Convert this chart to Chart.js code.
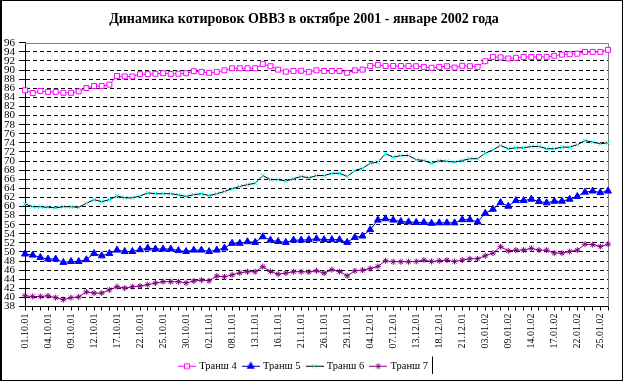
<!DOCTYPE html>
<html>
<head>
<meta charset="utf-8">
<script src="https://cdn.jsdelivr.net/npm/chart.js@4/dist/chart.umd.min.js"></script>
<style>
  html, body { margin: 0; padding: 0; background: #fff; }
  canvas { display: block; }
</style>
</head>
<body>
<canvas id="chart" width="623" height="381"></canvas>
<script>
const dates = [
  '01.10.01', '02.10.01', '03.10.01', '04.10.01', '05.10.01', '08.10.01', '09.10.01', '10.10.01',
  '11.10.01', '12.10.01', '15.10.01', '16.10.01', '17.10.01', '18.10.01', '19.10.01', '22.10.01',
  '23.10.01', '24.10.01', '25.10.01', '26.10.01', '29.10.01', '30.10.01', '31.10.01', '01.11.01',
  '02.11.01', '05.11.01', '06.11.01', '08.11.01', '09.11.01', '12.11.01', '13.11.01', '14.11.01',
  '15.11.01', '16.11.01', '19.11.01', '20.11.01', '21.11.01', '22.11.01', '23.11.01', '26.11.01',
  '27.11.01', '28.11.01', '29.11.01', '30.11.01', '03.12.01', '04.12.01', '05.12.01', '06.12.01',
  '07.12.01', '10.12.01', '11.12.01', '13.12.01', '14.12.01', '17.12.01', '18.12.01', '19.12.01',
  '20.12.01', '21.12.01', '25.12.01', '28.12.01', '03.01.02', '04.01.02', '08.01.02', '09.01.02',
  '10.01.02', '11.01.02', '14.01.02', '15.01.02', '16.01.02', '17.01.02', '18.01.02', '21.01.02',
  '22.01.02', '23.01.02', '24.01.02', '25.01.02', '28.01.02'
];

const tranche4 = [
  85.55, 84.95, 85.4, 85.2, 85.2, 85.0, 85.0, 85.3, 86.05, 86.5, 86.5, 86.8, 88.7, 88.6, 88.6, 89.1,
  89.1, 89.2, 89.3, 89.15, 89.2, 89.3, 89.75, 89.6, 89.4, 89.6, 89.95, 90.4, 90.4, 90.4, 90.4, 91.3,
  90.85, 90.1, 89.65, 89.8, 89.85, 89.6, 89.95, 89.8, 89.8, 89.8, 89.4, 89.95, 90.1, 90.9, 91.15, 90.9,
  90.9, 90.9, 90.9, 90.85, 90.7, 90.5, 90.7, 90.85, 90.55, 90.95, 90.85, 90.7, 91.95, 92.9, 92.8, 92.55,
  92.7, 92.9, 92.9, 92.9, 92.9, 93.15, 93.4, 93.5, 93.6, 94.0, 94.0, 94.0, 94.45
];
const tranche5 = [
  49.55, 49.3, 48.8, 48.45, 48.45, 47.7, 47.9, 47.9, 48.3, 49.65, 49.15, 49.65, 50.4, 50.1, 50.1, 50.5,
  50.85, 50.65, 50.65, 50.65, 50.3, 50.1, 50.4, 50.4, 50.1, 50.4, 50.85, 51.9, 51.9, 52.25, 52.1, 53.35,
  52.6, 52.3, 52.1, 52.6, 52.6, 52.7, 52.9, 52.7, 52.7, 52.7, 52.1, 53.2, 53.5, 54.9, 57.0, 57.3,
  57.0, 56.7, 56.6, 56.5, 56.5, 56.3, 56.4, 56.4, 56.4, 57.1, 57.1, 56.6, 58.5, 59.4, 60.85, 60.05,
  61.3, 61.3, 61.6, 61.1, 60.8, 61.15, 61.15, 61.6, 62.2, 63.15, 63.4, 63.05, 63.4
];
const tranche6 = [
  60.55, 59.95, 59.95, 59.8, 59.7, 59.95, 59.95, 59.8, 60.7, 61.5, 61.05, 61.5, 62.3, 61.9, 61.9, 62.3,
  63.0, 62.8, 62.8, 62.8, 62.55, 62.2, 62.6, 62.8, 62.4, 62.8, 63.3, 63.9, 64.4, 64.8, 65.1, 66.8,
  65.9, 65.9, 65.6, 66.1, 66.6, 66.3, 66.8, 66.8, 67.3, 67.3, 66.6, 67.9, 68.4, 69.5, 69.75, 71.6,
  70.85, 71.2, 71.2, 70.3, 70.1, 69.5, 70.1, 69.95, 69.75, 70.1, 70.5, 70.5, 71.7, 72.45, 73.4, 72.7,
  72.9, 72.9, 73.2, 73.2, 72.7, 72.7, 73.05, 73.05, 73.6, 74.5, 74.15, 73.8, 74.0
];
const tranche7 = [
  40.35, 40.2, 40.2, 40.35, 39.95, 39.5, 39.95, 40.1, 41.2, 40.95, 40.95, 41.65, 42.35, 42.05, 42.35, 42.5,
  42.8, 43.15, 43.45, 43.45, 43.45, 43.2, 43.6, 43.8, 43.65, 44.7, 44.55, 44.95, 45.4, 45.65, 45.65, 46.75,
  45.7, 45.1, 45.35, 45.65, 45.65, 45.6, 45.85, 45.35, 46.1, 45.7, 44.75, 45.85, 46.0, 46.35, 46.8, 48.05,
  47.85, 47.85, 47.85, 47.9, 48.2, 47.9, 48.05, 48.2, 47.9, 48.2, 48.5, 48.5, 49.15, 49.75, 51.15, 50.25,
  50.4, 50.4, 50.8, 50.4, 50.4, 49.75, 49.75, 50.1, 50.4, 51.7, 51.6, 51.2, 51.7
];

const seriesNames = ['Транш 4', 'Транш 5', 'Транш 6', 'Транш 7'];
const yMin = 38;
const yMax = 96;
const yStep = 2;
const labelEvery = 3;

const FONT = "'Liberation Serif', 'Times New Roman', serif";

const series = [
  { data: tranche4, line: '#ff00ff', style: 'rect', radius: 3.5, fill: '#ffffff', stroke: '#ff00ff' },
  { data: tranche5, line: '#000080', style: 'triangle', radius: 4, fill: '#0000ff', stroke: '#0000ff' },
  { data: tranche6, line: '#000000', style: 'crossRot', radius: 3, fill: '#00ffff', stroke: '#00ffff' },
  { data: tranche7, line: '#800080', style: 'star', radius: 3, fill: '#800080', stroke: '#800080' },
];

// small line + marker pictures for the legend
const legendIcon = (s) => {
  const c = document.createElement('canvas');
  c.width = 18;
  c.height = 10;
  const ctx = c.getContext('2d');
  ctx.strokeStyle = s.line;
  ctx.lineWidth = 1;
  ctx.beginPath();
  ctx.moveTo(0, 5.5);
  ctx.lineTo(18, 5.5);
  ctx.stroke();
  ctx.fillStyle = s.fill;
  ctx.strokeStyle = s.stroke;
  Chart.helpers.drawPoint(ctx, { pointStyle: s.style, radius: s.radius, rotation: 0, borderWidth: 1 }, 9, 5.5);
  return c;
};

const datasets = series.map((s, i) => ({
  label: seriesNames[i],
  data: s.data,
  borderColor: s.line,
  borderWidth: 1,
  backgroundColor: s.fill,
  pointStyle: s.style,
  pointRadius: s.radius,
  pointBackgroundColor: s.fill,
  pointBorderColor: s.stroke,
  pointBorderWidth: 1,
  tension: 0,
  fill: false,
  clip: false,
}));

const frame = {
  id: 'frame',
  beforeDatasetsDraw(chart) {
    const { ctx, chartArea: a } = chart;
    ctx.save();
    ctx.strokeStyle = '#808080';
    ctx.lineWidth = 1;
    ctx.beginPath();
    ctx.moveTo(a.left, Math.round(a.top) + 0.5);
    ctx.lineTo(Math.round(a.right) + 0.5, Math.round(a.top) + 0.5);
    ctx.lineTo(Math.round(a.right) + 0.5, a.bottom);
    ctx.stroke();
    ctx.restore();
  },
  afterDraw(chart) {
    const { ctx, width, height, legend } = chart;
    ctx.save();
    ctx.strokeStyle = '#000';
    ctx.lineWidth = 1;
    ctx.strokeRect(0.5, 0.5, width - 1, height - 1);
    ctx.beginPath();
    ctx.moveTo(1.5, 0);
    ctx.lineTo(1.5, height);
    ctx.stroke();
    if (legend && legend.legendHitBoxes.length) {
      const boxes = legend.legendHitBoxes;
      const right = Math.max(...boxes.map((b) => b.left + b.width)) + 4;
      const top = Math.min(...boxes.map((b) => b.top)) - 4;
      const bottom = Math.max(...boxes.map((b) => b.top + b.height)) + 3;
      ctx.beginPath();
      ctx.moveTo(Math.round(right) + 0.5, top);
      ctx.lineTo(Math.round(right) + 0.5, bottom);
      ctx.stroke();
    }
    ctx.restore();
  },
};

new Chart(document.getElementById('chart'), {
  type: 'line',
  data: { labels: dates, datasets },
  options: {
    responsive: false,
    animation: false,
    devicePixelRatio: 1,
    layout: { padding: { left: 0, right: 15, top: 0, bottom: 0 } },
    plugins: {
      title: {
        display: true,
        text: 'Динамика котировок ОВВЗ в октябре 2001 - январе 2002 года',
        color: '#000',
        font: { family: FONT, size: 14, weight: 'bold' },
        padding: { top: 11, bottom: 15 },
      },
      legend: {
        display: true,
        position: 'bottom',
        labels: {
          usePointStyle: true,
          pointStyleWidth: 14,
          padding: 7,
          color: '#000',
          font: { family: FONT, size: 10.5 },
          generateLabels: (chart) =>
            Chart.defaults.plugins.legend.labels.generateLabels(chart).map((item, i) => ({
              ...item,
              pointStyle: legendIcon(series[i]),
            })),
        },
      },
      tooltip: { enabled: false },
    },
    scales: {
      x: {
        type: 'category',
        offset: false,
        afterFit: (scale) => { scale.height = 47; },
        grid: { display: true, drawOnChartArea: false, drawTicks: true, tickLength: 4, tickColor: '#000' },
        border: { display: true, color: '#000', width: 1 },
        ticks: {
          autoSkip: false,
          maxRotation: 90,
          minRotation: 90,
          padding: 3,
          color: '#000',
          font: { family: FONT, size: 10 },
          callback: (value, index) => (index % labelEvery === 0 ? dates[index] : ''),
        },
      },
      y: {
        min: yMin,
        max: yMax,
        afterFit: (scale) => { scale.width = 25; },
        grid: {
          color: (c) => (c.tick && (c.tick.value === yMax || c.tick.value === yMin) ? 'rgba(0,0,0,0)' : '#000'),
          lineWidth: 1,
          drawTicks: true,
          tickLength: 6,
          tickColor: '#000',
        },
        border: { display: true, color: '#000', width: 1, dash: [4, 3] },
        ticks: {
          stepSize: yStep,
          autoSkip: false,
          padding: 4,
          color: '#000',
          font: { family: FONT, size: 11 },
        },
      },
    },
  },
  plugins: [frame],
});
</script>
</body>
</html>
